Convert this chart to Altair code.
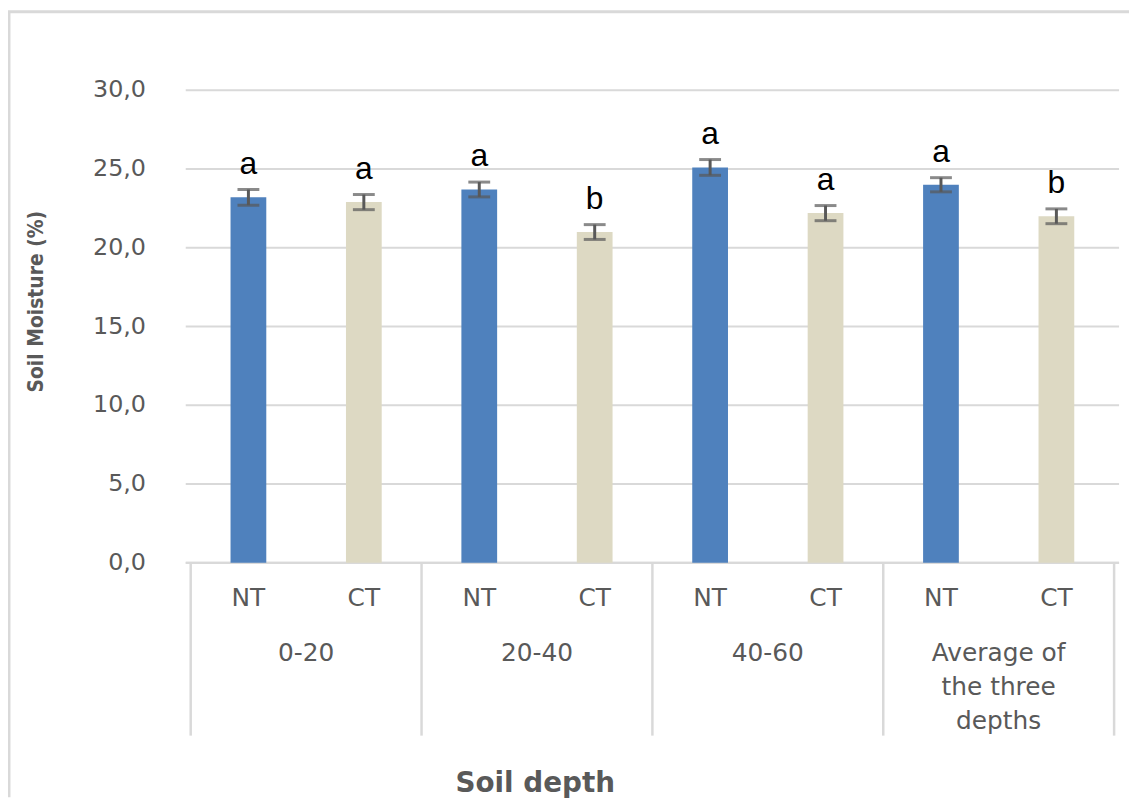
import altair as alt
import pandas as pd

# ---- data ----
depths = ["0-20", "20-40", "40-60", "Average of\nthe three\ndepths"]
treatments = ["NT", "CT"]
nt_mean = [23.2, 23.7, 25.1, 24.0]
ct_mean = [22.9, 21.0, 22.2, 22.0]
nt_err = [0.5, 0.47, 0.5, 0.45]
ct_err = [0.48, 0.47, 0.48, 0.47]
nt_letter = ["a", "a", "a", "a"]
ct_letter = ["a", "b", "a", "b"]
y_ticks = [0, 5, 10, 15, 20, 25, 30]

rows = []
for g, d in enumerate(depths):
    for t_i, (t, m, e, l) in enumerate([
        ("NT", nt_mean[g], nt_err[g], nt_letter[g]),
        ("CT", ct_mean[g], ct_err[g], ct_letter[g]),
    ]):
        slot = 2 * g + t_i
        rows.append(dict(depth=d, treat=t, slot=slot + 0.5, mean=m,
                         lo=m - e, hi=m + e, letter=l))
df = pd.DataFrame(rows)
groups = pd.DataFrame({"depth": depths, "center": [2 * i + 1 for i in range(len(depths))]})
dividers = pd.DataFrame({"b": [2 * i for i in range(len(depths) + 1)]})
ticks = pd.DataFrame({"v": y_ticks})
one = pd.DataFrame({"k": [0]})

W, H = 940, 476
PL, PT, PR, PB = 179, 80, 10, 236
GRAY = "#595959"
LIGHT = "#D9D9D9"
FONT = "DejaVu Sans"

xs = alt.Scale(domain=[0, 2 * len(depths)], nice=False, zero=False)
ys = alt.Scale(domain=[0, 30], nice=False)

X = alt.X("slot:Q", scale=xs, axis=None)

base = alt.Chart(df)

grid = alt.Chart(ticks).mark_rule(color=LIGHT, strokeWidth=2).encode(
    y=alt.Y("v:Q", scale=ys, axis=None), x=alt.value(0), x2=alt.value(W))
ylabels = alt.Chart(ticks).transform_calculate(
    lab="replace(format(datum.v, '.1f'), '.', ',')"
).mark_text(font=FONT, fontSize=24, color=GRAY, align="right", baseline="middle").encode(
    y=alt.Y("v:Q", scale=ys, axis=None), x=alt.value(-40), text="lab:N")

bars = base.mark_bar(size=36).encode(
    x=X, y=alt.Y("mean:Q", scale=ys, axis=None),
    color=alt.Color("treat:N", scale=alt.Scale(domain=treatments, range=["#4F81BD", "#DDD9C3"]), legend=None),
)
err = base.mark_rule(color=GRAY, strokeWidth=3).encode(
    x=X, y=alt.Y("lo:Q", scale=ys, axis=None), y2="hi:Q")
cap_hi = base.mark_tick(color=GRAY, size=22, thickness=3, orient="horizontal").encode(
    x=X, y=alt.Y("hi:Q", scale=ys, axis=None))
cap_lo = base.mark_tick(color=GRAY, size=22, thickness=3, orient="horizontal").encode(
    x=X, y=alt.Y("lo:Q", scale=ys, axis=None))
letters = base.mark_text(font="Liberation Sans", fontSize=32, color="#000000", baseline="alphabetic", dy=-16).encode(
    x=X, y=alt.Y("hi:Q", scale=ys, axis=None), text="letter:N")

treat_lbl = base.mark_text(font=FONT, fontSize=25, color=GRAY, baseline="middle").encode(
    x=X, y=alt.value(511), text="treat:N")

group_lbl = alt.Chart(groups).mark_text(font=FONT, fontSize=25, color=GRAY, baseline="top",
                                        lineBreak="\n", lineHeight=34).encode(
    x=alt.X("center:Q", scale=xs, axis=None), y=alt.value(555), text="depth:N")

div = alt.Chart(dividers).mark_rule(color=LIGHT, strokeWidth=2.5).encode(
    x=alt.X("b:Q", scale=xs, axis=None), y=alt.value(H), y2=alt.value(650))
baseline = alt.Chart(one).mark_rule(color=LIGHT, strokeWidth=2.5).encode(
    x=alt.value(0), x2=alt.value(W), y=alt.value(H))

ytitle = alt.Chart(one).mark_text(font="DejaVu Sans Condensed", fontWeight="bold",
                                  fontSize=21, color=GRAY, angle=270, baseline="middle", align="center").encode(
    x=alt.value(-150), y=alt.value(213), text=alt.value("Soil Moisture (%)"))
xtitle = alt.Chart(one).mark_text(font=FONT, fontWeight="bold", fontSize=28, color=GRAY,
                                  baseline="middle", align="center").encode(
    x=alt.value(352), y=alt.value(699), text=alt.value("Soil depth"))

border_top = alt.Chart(one).mark_rule(color=LIGHT, strokeWidth=3).encode(
    x=alt.value(-PL), x2=alt.value(W + PR), y=alt.value(-79))
border_left = alt.Chart(one).mark_rule(color=LIGHT, strokeWidth=3).encode(
    x=alt.value(-PL + 1), y=alt.value(-79), y2=alt.value(H + PB))

chart = alt.layer(
    grid, ylabels, border_top, border_left, div, baseline, bars, err, cap_hi, cap_lo, letters,
    treat_lbl, group_lbl, ytitle, xtitle
).properties(
    width=W, height=H,
    autosize=alt.AutoSizeParams(type="none"),
    padding={"left": PL, "top": PT, "right": PR, "bottom": PB},
).configure_view(strokeWidth=0)

chart.save("out.html", embed_options={"renderer": "svg", "actions": False})
